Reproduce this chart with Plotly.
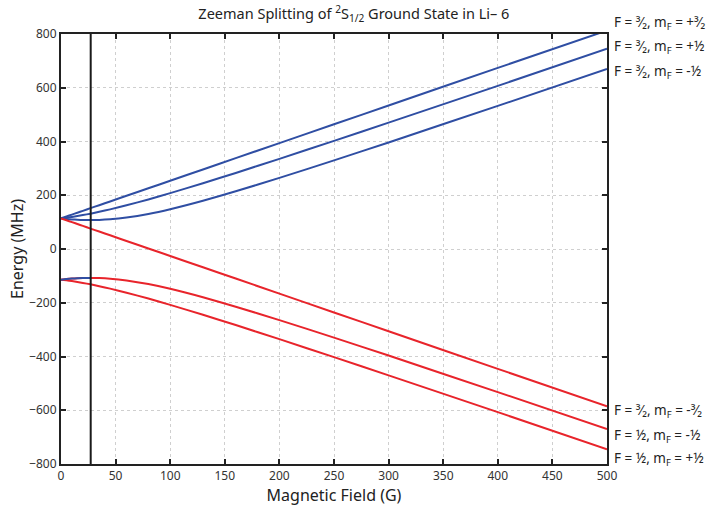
import plotly.graph_objects as go

# Magnetic field (G)
B_field = [0, 5, 10, 15, 20, 27, 35, 45, 60, 80, 100, 130, 160, 200, 250, 300, 400, 500]

# Energies (MHz)
E_up_p32 = [114, 121, 128, 135, 142, 152, 163, 177, 198, 226, 254, 296, 338, 394, 464, 534, 674, 813]
E_up_p12 = [114, 116.5, 119.4, 122.6, 126.1, 131.5, 138.3, 147.5, 162.5, 184.5, 207.8, 244.7, 283.0, 335.4, 402.3, 470.1, 607.1, 745.2]
E_up_m12 = [114, 111.9, 110.1, 108.8, 107.9, 107.5, 108.0, 110.3, 116.9, 130.4, 148.1, 179.6, 214.7, 264.6, 329.7, 396.5, 532.5, 670.1]
E_m32 = [114, 107, 100, 93, 86, 76, 65, 51, 30, 2, -26, -68, -110, -166, -236, -306, -446, -585]
E_lo_m12 = [-114, -111.9, -110.1, -108.8, -107.9, -107.5, -108.0, -110.3, -116.9, -130.4, -148.1, -179.6, -214.7, -264.6, -329.7, -396.5, -532.5, -670.1]
E_lo_p12 = [-114, -116.5, -119.4, -122.6, -126.1, -131.5, -138.3, -147.5, -162.5, -184.5, -207.8, -244.7, -283.0, -335.4, -402.3, -470.1, -607.1, -745.2]

B_marker = 27.2  # vertical marker line (G)

labels_top = ["F = ³⁄₂, m<sub>F</sub> = +³⁄₂", "F = ³⁄₂, m<sub>F</sub> = +½", "F = ³⁄₂, m<sub>F</sub> = -½"]
labels_top_E = [840, 752, 660]
labels_bot = ["F = ³⁄₂, m<sub>F</sub> = -³⁄₂", "F = ½, m<sub>F</sub> = -½", "F = ½, m<sub>F</sub> = +½"]
labels_bot_E = [-602, -695, -782]

x_ticks = list(range(0, 501, 50))
y_ticks = list(range(-800, 801, 200))

Y_MIN, Y_MAX = -800, 800

BLUE = "#2f4ea3"
RED = "#e8242b"
FONT = "Noto Sans"

fig = go.Figure()
for E in [E_up_p32, E_up_p12, E_up_m12]:
    fig.add_trace(go.Scatter(x=B_field, y=E, mode="lines",
                             line=dict(color=BLUE, width=2, shape="spline", smoothing=0.6), showlegend=False))
for E in [E_m32, E_lo_m12, E_lo_p12]:
    fig.add_trace(go.Scatter(x=B_field, y=E, mode="lines",
                             line=dict(color=RED, width=2, shape="spline", smoothing=0.6), showlegend=False))
n_seg = sum(1 for b in B_field if b <= B_marker)
fig.add_trace(go.Scatter(x=B_field[:n_seg], y=E_lo_m12[:n_seg], mode="lines",
                         line=dict(color=BLUE, width=2, shape="spline", smoothing=0.6), showlegend=False))

fig.add_shape(type="line", x0=B_marker, x1=B_marker, y0=Y_MIN, y1=Y_MAX, xref="x", yref="y",
              line=dict(color="#1a1a1a", width=2))

for txt, e in zip(labels_top + labels_bot, labels_top_E + labels_bot_E):
    fig.add_annotation(x=1.0, xref="paper", y=(e - Y_MIN) / (Y_MAX - Y_MIN), yref="paper",
                       text=txt, showarrow=False, xanchor="left", yanchor="middle", xshift=5,
                       font=dict(family=FONT, size=13.5, color="#222"))

axis_common = dict(showline=True, linecolor="#222", linewidth=2, mirror="ticks",
                   ticks="inside", ticklen=5, tickcolor="#222", tickwidth=1.5,
                   showgrid=True, gridcolor="#cfcfcf", griddash="dot", gridwidth=1,
                   zeroline=False, automargin=False,
                   tickfont=dict(family=FONT, size=12, color="#333"))

fig.update_layout(
    width=712, height=506,
    margin=dict(l=61, r=105, t=34, b=42),
    paper_bgcolor="white", plot_bgcolor="white",
    title=dict(text="Zeeman Splitting of <sup>2</sup>S<sub>1/2</sub> Ground State in Li– 6",
               x=0.497, xref="container", xanchor="center", y=1 - 14 / 506, yref="container", yanchor="middle",
               font=dict(family=FONT, size=14.5, color="#222")),
    xaxis=dict(range=[0, 500], tickvals=x_ticks,
               title=dict(text="Magnetic Field (G)", standoff=0, font=dict(family=FONT, size=16, color="#222")),
               **axis_common),
    yaxis=dict(range=[Y_MIN, Y_MAX], tickvals=y_ticks,
               title=dict(text="Energy (MHz)", standoff=2, font=dict(family=FONT, size=16, color="#222")),
               **axis_common),
)

fig.write_html("out.html", config={"displayModeBar": False},
               post_script="document.body.style.margin='0';document.body.style.overflow='hidden';")
